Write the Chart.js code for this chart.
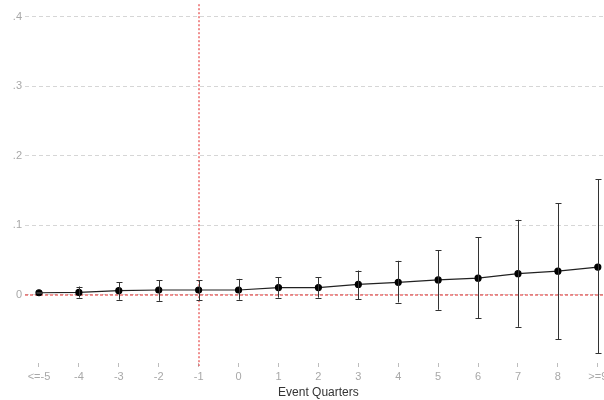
<!DOCTYPE html>
<html>
<head>
<meta charset="utf-8">
<script src="https://cdn.jsdelivr.net/npm/chart.js@4"></script>
<style>
  html, body { margin: 0; padding: 0; background: #fff; overflow: hidden; width: 604px; height: 400px; }
  #wrap { position: absolute; left: 0; top: 0; width: 616px; height: 400px; }
</style>
</head>
<body>
<div id="wrap"><canvas id="c" width="616" height="400"></canvas></div>
<script>
const categories = ["<=-5", "-4", "-3", "-2", "-1", "0", "1", "2", "3", "4", "5", "6", "7", "8", ">=9"];
const eventTimes = [-5, -4, -3, -2, -1, 0, 1, 2, 3, 4, 5, 6, 7, 8, 9];
const coef  = [0.003, 0.0035, 0.006, 0.007, 0.007, 0.007, 0.0105, 0.0105, 0.015, 0.018, 0.0215, 0.024, 0.0305, 0.034, 0.040];
const lower = [0.002, -0.004, -0.007, -0.0086, -0.008, -0.007, -0.004, -0.004, -0.006, -0.011, -0.0215, -0.034, -0.046, -0.064, -0.084];
const upper = [0.004, 0.012, 0.018, 0.021, 0.021, 0.023, 0.025, 0.025, 0.035, 0.049, 0.064, 0.083, 0.108, 0.132, 0.166];
const yTicks = [0, 0.1, 0.2, 0.3, 0.4];
const yTickLabels = ["0", ".1", ".2", ".3", ".4"];
const eventLine = -1;
const zeroLine = 0;

const refLines = {
  id: 'refLines',
  beforeDatasetsDraw(chart) {
    const {ctx, chartArea, scales: {x, y}} = chart;
    ctx.save();
    ctx.lineWidth = 1.2;
    ctx.strokeStyle = 'rgb(225, 40, 40)';
    ctx.setLineDash([3, 2]);
    const y0 = Math.round(y.getPixelForValue(zeroLine));
    ctx.beginPath();
    ctx.moveTo(chartArea.left, y0);
    ctx.lineTo(chartArea.right, y0);
    ctx.stroke();
    ctx.strokeStyle = 'rgb(230, 70, 70)';
    ctx.setLineDash([2, 2]);
    const x0 = Math.round(x.getPixelForValue(eventLine));
    ctx.beginPath();
    ctx.moveTo(x0, chartArea.top);
    ctx.lineTo(x0, chartArea.bottom + 3);
    ctx.stroke();
    ctx.restore();
  }
};

const errorBars = {
  id: 'errorBars',
  afterDatasetsDraw(chart) {
    const {ctx, scales: {x, y}} = chart;
    ctx.save();
    ctx.strokeStyle = '#333';
    ctx.lineWidth = 1;
    ctx.setLineDash([]);
    eventTimes.forEach((t, i) => {
      const px = Math.round(x.getPixelForValue(t)) + 0.5;
      const pl = y.getPixelForValue(lower[i]);
      const pu = y.getPixelForValue(upper[i]);
      ctx.beginPath();
      ctx.moveTo(px, pl); ctx.lineTo(px, pu);
      ctx.moveTo(px - 3, Math.round(pl) + 0.5); ctx.lineTo(px + 3, Math.round(pl) + 0.5);
      ctx.moveTo(px - 3, Math.round(pu) + 0.5); ctx.lineTo(px + 3, Math.round(pu) + 0.5);
      ctx.stroke();
    });
    ctx.restore();
  }
};

new Chart(document.getElementById('c'), {
  type: 'line',
  data: {
    datasets: [{
      data: eventTimes.map((t, i) => ({x: t, y: coef[i]})),
      borderColor: '#222',
      backgroundColor: '#000',
      borderWidth: 1.2,
      pointRadius: 3,
      pointHoverRadius: 3,
      pointBackgroundColor: '#000',
      pointBorderColor: '#000',
      tension: 0
    }]
  },
  options: {
    responsive: false,
    animation: false,
    devicePixelRatio: 1,
    layout: { padding: { top: 4, right: 1, left: 0, bottom: 0 } },
    plugins: { legend: { display: false }, tooltip: { enabled: false } },
    scales: {
      x: {
        type: 'linear',
        min: -5.35,
        max: 9.35,
        afterBuildTicks(scale) { scale.ticks = eventTimes.map(v => ({value: v})); },
        afterFit(scale) { scale.height = 37; scale.paddingLeft = 0; scale.paddingRight = 0; },
        ticks: {
          autoSkip: false,
          maxRotation: 0,
          padding: 3,
          color: '#a8a8a8',
          font: { family: 'Liberation Sans, Arial, sans-serif', size: 11 },
          callback(v) { const i = eventTimes.indexOf(v); return i >= 0 ? categories[i] : ''; }
        },
        grid: { display: true, drawOnChartArea: false, drawTicks: true, tickLength: 4, tickColor: '#bdbdbd', color: '#bdbdbd' },
        border: { display: false },
        title: {
          display: true,
          text: 'Event Quarters',
          color: '#333',
          padding: { top: 0, bottom: 0 },
          font: { family: 'Liberation Sans, Arial, sans-serif', size: 12 }
        }
      },
      y: {
        type: 'linear',
        min: -0.098,
        max: 0.418,
        afterBuildTicks(scale) { scale.ticks = yTicks.map(v => ({value: v})); },
        afterFit(scale) { scale.width = 25; scale.paddingTop = 0; scale.paddingBottom = 0; },
        ticks: {
          padding: 3,
          color: '#a8a8a8',
          font: { family: 'Liberation Sans, Arial, sans-serif', size: 11 },
          callback(v) { const i = yTicks.findIndex(t => Math.abs(t - v) < 1e-9); return i >= 0 ? yTickLabels[i] : ''; }
        },
        grid: { display: true, drawTicks: false, color: '#d6d6d6', lineWidth: 1 },
        border: { display: false, dash: [4, 3] }
      }
    }
  },
  plugins: [errorBars, refLines]
});
</script>
</body>
</html>
